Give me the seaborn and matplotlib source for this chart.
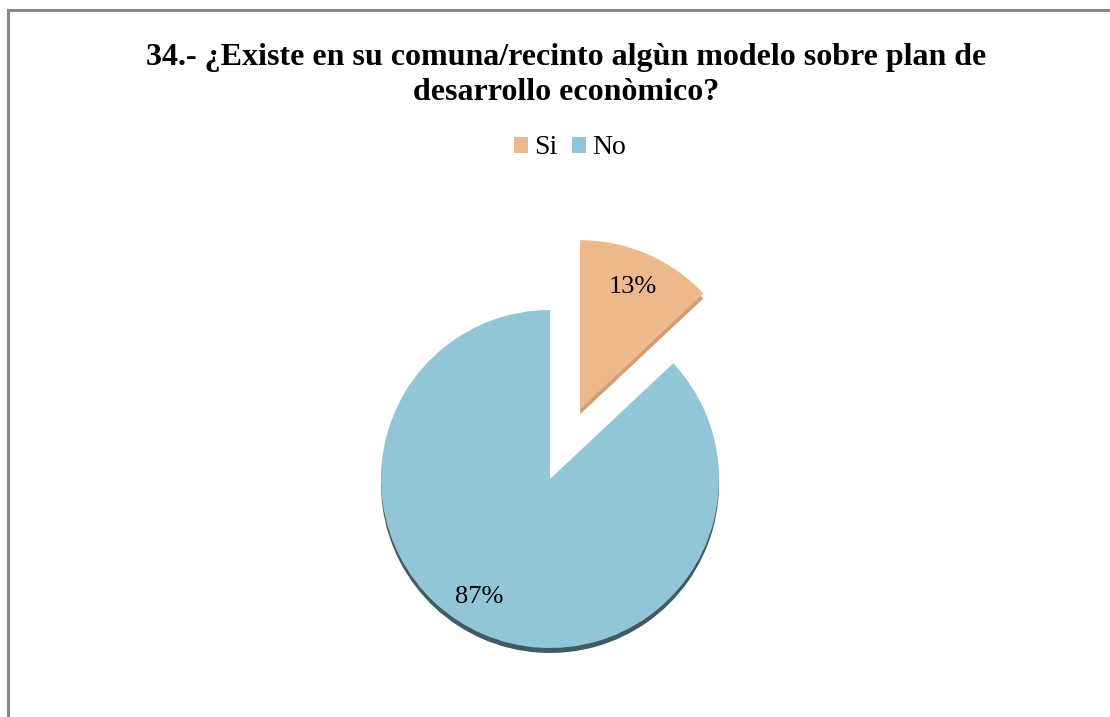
import matplotlib.pyplot as plt
import seaborn as sns
from matplotlib.patches import Rectangle

# data
categories = ['Si', 'No']
values = [13, 87]
title = '34.- ¿Existe en su comuna/recinto algùn modelo sobre plan de\ndesarrollo econòmico?'

colors = ['#EDB88C', '#92C5D6']
shadow_colors = ['#D29E76', '#3F5C64']

sns.set_theme(style='white')
plt.rcParams['font.family'] = ['Liberation Serif', 'DejaVu Serif']
plt.rcParams['text.color'] = 'black'

W, H = 1110, 717
fig = plt.figure(figsize=(W / 100, H / 100), dpi=100)
ax = fig.add_axes([0, 0, 1, 1])

# pie placement in pixel-like data units
cx, cy, r = 550, H - 479, 169
explode = [0.45 * r, 0]

# shadow under the pie
ax.pie(values, startangle=90, counterclock=False, center=(cx, cy - 5),
       radius=r, explode=explode, colors=shadow_colors,
       wedgeprops=dict(linewidth=0))

wedges, texts, autotexts = ax.pie(
    values, startangle=90, counterclock=False, center=(cx, cy), radius=r,
    explode=explode, colors=colors, autopct='%.0f%%', pctdistance=0.79,
    wedgeprops=dict(linewidth=0), textprops=dict(fontsize=19, color='black'))

# Excel puts the big slice label lower-left
autotexts[1].set_position((cx - 0.42 * r, cy - 0.70 * r))

ax.set_xlim(0, W)
ax.set_ylim(0, H)
ax.set_aspect('equal')
ax.axis('off')

ax.text(566, H - 43, title, ha='center', va='top', fontsize=23,
        fontweight='bold', linespacing=1.29, color='black')

leg = ax.legend(wedges, categories, loc='center',
                bbox_to_anchor=(570 / W, 1 - 148 / H),
                bbox_transform=fig.transFigure, ncol=2, frameon=False,
                fontsize=20, handlelength=0.5, handleheight=0.5,
                handletextpad=0.22, columnspacing=0.5)
for t in leg.get_texts():
    t.set_color('black')

# chart area border (cropped on right/bottom)
ax.add_patch(Rectangle((8, -20), W + 20, H - 10 + 20, fill=False,
                       edgecolor='#888888', lw=2.2, clip_on=False))

fig.savefig('out.png', dpi=100)
